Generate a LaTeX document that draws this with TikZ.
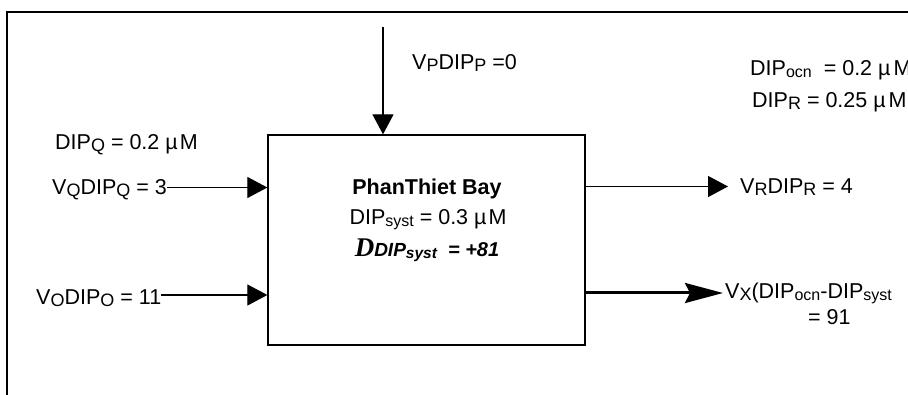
\documentclass[tikz,border=0pt]{standalone}
\usepackage{fontspec}
\setmainfont{Liberation Sans}
\newfontfamily\serifbi{Liberation Serif}
\usetikzlibrary{arrows.meta}
\newcommand\sbs[1]{\raisebox{-1.5pt}{\fontsize{18pt}{18pt}\selectfont #1}}
\newcommand\sbl[1]{\raisebox{-1.5pt}{\fontsize{16pt}{16pt}\selectfont #1}}
\begin{document}
\begin{tikzpicture}[x=1pt,y=-1pt,
  lbl/.style={inner sep=0pt, font=\fontsize{21.5pt}{24pt}\selectfont},
  lblc/.style={lbl, text height=15pt, text depth=0pt},
  flow/.style={line width=1.2pt},
  tip/.style={-{Triangle[length=20pt,width=21pt]}},
  bigtip/.style={line width=3pt,-{Stealth[length=38pt,width=20pt,inset=5pt]}},
  boxst/.style={draw, line width=1.3pt, minimum width=317pt, minimum height=210pt, inner sep=0pt}]
\useasboundingbox (0,0) rectangle (908,395);
\clip (0,0) rectangle (908,395);
% frame
\draw[line width=1.5pt] (7,400) -- (7,12) -- (915,12);
% central box
\node[boxst] (bay) at (426.5,240) {};
\node[lbl, anchor=base] (name) at (427,195) {\bfseries PhanThiet Bay};
\node[lbl, anchor=base] (conc) at (428,225) {DIP\sbl{syst} = 0.3 µ\kern2ptM};
\node[lbl, anchor=base] (delta) at (427,257) {{\serifbi\fontsize{27pt}{27pt}\selectfont\bfseries\itshape D}{\bfseries\itshape\fontsize{19pt}{19pt}\selectfont DIP\raisebox{-1.5pt}{\fontsize{15.5pt}{15.5pt}\selectfont syst}\fontsize{20pt}{20pt}\selectfont\ \ = +81}};
% top input
\coordinate (ptop) at (383,27);
\draw[flow,tip] (ptop) -- (ptop |- bay.north);
\node[lbl, anchor=base west] (vp) at (412,70) {V\sbs{P}DIP\sbs{P} =0};
% top right
\node[lbl, anchor=base west] (docn) at (750,76) {DIP\sbl{ocn}\ \ = 0.2 µ\kern3ptM};
\node[lbl, anchor=base west] (dr) at (752,108) {DIP\sbs{R} = 0.25 µ\kern3ptM};
% left inputs
\node[lbl, anchor=base west] (dipq) at (55,150) {DIP\sbs{Q} = 0.2 µ\kern2ptM};
\node[lblc, anchor=west] (vq) at (52,187.5) {V\sbs{Q}DIP\sbs{Q} = 3};
\node[lblc, anchor=west] (vo) at (36,297.5) {V\sbs{O}DIP\sbs{O} = 11};
\draw[flow,tip] (vq.east) -- (vq.east -| bay.west);
\draw[flow,tip] ([yshift=2.5pt]vo.east) -- ([yshift=2.5pt]vo.east -| bay.west);
% right outputs
\node[lblc, anchor=west] (vr) at (740,186.5) {V\sbs{R}DIP\sbs{R} = 4};
\draw[flow,tip] (vr.west -| bay.east) -- ([xshift=-12pt]vr.west);
\node[lblc, anchor=west] (vx) at (725,291.5) {V\sbs{X}(DIP\sbl{ocn}-DIP\sbl{syst}};
\node[lbl, anchor=base west] (n91) at (808,325) {= 91};
\draw[bigtip] ([yshift=-1.5pt]vx.west -| bay.east) -- ([xshift=-2pt,yshift=-1.5pt]vx.west);
\end{tikzpicture}
\end{document}
